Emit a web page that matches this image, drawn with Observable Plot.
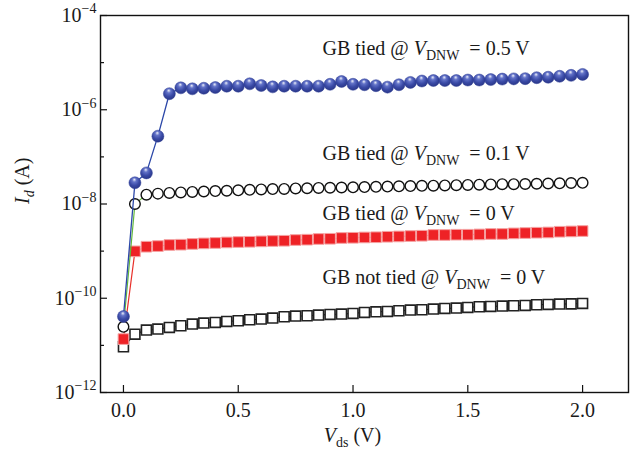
<!DOCTYPE html>
<html><head><meta charset="utf-8">
<script src="https://cdn.jsdelivr.net/npm/d3@7"></script>
<script src="https://cdn.jsdelivr.net/npm/@observablehq/plot@0.6"></script>
<style>body{margin:0;background:#fff}</style>
</head><body><div id="chart"></div>
<script>
const vds = [0,0.05,0.1,0.15,0.2,0.25,0.3,0.35,0.4,0.45,0.5,0.55,0.6,0.65,0.7,0.75,0.8,0.85,0.9,0.95,1.0,
  1.05,1.1,1.15,1.2,1.25,1.3,1.35,1.4,1.45,1.5,1.55,1.6,1.65,1.7,1.75,1.8,1.85,1.9,1.95,2.0];
const idTied05 = [4.1e-11,2.82e-8,4.57e-8,2.75e-7,2.19e-6,2.92e-6,2.78e-6,2.86e-6,2.96e-6,3.16e-6,3.16e-6,3.55e-6,3.27e-6,3.06e-6,3.16e-6,3.16e-6,3.16e-6,3.16e-6,3.47e-6,3.98e-6,3.47e-6,
  3.39e-6,3.24e-6,3.02e-6,3.39e-6,3.8e-6,4.07e-6,4.17e-6,4.17e-6,4.17e-6,4.27e-6,4.27e-6,4.37e-6,4.47e-6,4.52e-6,4.57e-6,4.79e-6,4.9e-6,5.13e-6,5.37e-6,5.62e-6];
const idTied01 = [2.48e-11,1.0e-8,1.58e-8,1.66e-8,1.72e-8,1.76e-8,1.8e-8,1.84e-8,1.88e-8,1.91e-8,1.95e-8,2.0e-8,2.04e-8,2.07e-8,2.09e-8,2.14e-8,2.16e-8,2.19e-8,2.21e-8,2.24e-8,2.26e-8,
  2.29e-8,2.32e-8,2.34e-8,2.37e-8,2.4e-8,2.43e-8,2.45e-8,2.48e-8,2.51e-8,2.54e-8,2.57e-8,2.6e-8,2.63e-8,2.63e-8,2.66e-8,2.69e-8,2.72e-8,2.75e-8,2.79e-8,2.82e-8];
const idTied0 = [1.36e-11,9.9e-10,1.24e-9,1.28e-9,1.35e-9,1.37e-9,1.42e-9,1.46e-9,1.49e-9,1.53e-9,1.56e-9,1.58e-9,1.61e-9,1.64e-9,1.66e-9,1.72e-9,1.75e-9,1.81e-9,1.83e-9,1.9e-9,1.92e-9,
  1.95e-9,1.97e-9,2.02e-9,2.05e-9,2.09e-9,2.12e-9,2.2e-9,2.2e-9,2.23e-9,2.23e-9,2.26e-9,2.31e-9,2.31e-9,2.38e-9,2.42e-9,2.46e-9,2.49e-9,2.58e-9,2.62e-9,2.67e-9];
const idNotTied = [9.3e-12,1.73e-11,2.11e-11,2.22e-11,2.4e-11,2.61e-11,2.83e-11,2.97e-11,3.07e-11,3.22e-11,3.33e-11,3.5e-11,3.61e-11,3.79e-11,4.05e-11,4.19e-11,4.25e-11,4.4e-11,4.54e-11,4.61e-11,4.76e-11,
  5.0e-11,5.16e-11,5.25e-11,5.42e-11,5.61e-11,5.7e-11,5.89e-11,6.08e-11,6.18e-11,6.38e-11,6.61e-11,6.7e-11,6.82e-11,6.93e-11,7.05e-11,7.28e-11,7.4e-11,7.52e-11,7.6e-11,7.76e-11];
const yTicks = [1e-12,1e-10,1e-8,1e-6,1e-4];
const yMinorTicks = [1e-11,1e-9,1e-7,1e-5];
const xTicks = [0,0.5,1.0,1.5,2.0];
const seriesLabels = ["GB tied @ *V*_{DNW}  = 0.5 V","GB tied @ *V*_{DNW}  = 0.1 V","GB tied @ *V*_{DNW}  = 0 V","GB not tied @ *V*_{DNW}  = 0 V"];
const labelX = [0.867,0.867,0.867,0.867];
const labelY = [2.0e-5,1.2e-7,6.4e-9,2.8e-10];
const xTitle = "*V*_{ds} (V)";
const yTitle = "*I*_{*d*} (A)";

const mk = (ys) => vds.map((x, i) => ({x, y: ys[i]}));
const s05 = mk(idTied05), s01 = mk(idTied01), s0 = mk(idTied0), sNT = mk(idNotTied);
const labelData = seriesLabels.map((t, i) => ({x: labelX[i], y: labelY[i], t}));

const W = 640, H = 455, mL = 100, mR = 12, mT = 15, mB = 63;
const plotW = W - mL - mR, plotH = H - mT - mB;
const FS = 20;

const chart = Plot.plot({
  width: W, height: H,
  marginLeft: mL, marginRight: mR, marginTop: mT, marginBottom: mB,
  style: {fontFamily: "'Liberation Serif', 'DejaVu Serif', serif", fontSize: FS + "px", background: "#fff", color: "#1a1a1a", overflow: "visible"},
  x: {domain: [-0.1, 2.2], axis: null},
  y: {type: "log", domain: [1e-12, 1e-4], axis: null},
  marks: [
    Plot.axisX(xTicks, {tickSize: 0, tickPadding: 10, tickFormat: d => d.toFixed(1), fontSize: FS, label: null}),
    Plot.axisY(yTicks, {tickSize: 0, tickPadding: 4, tickFormat: d => "10^{−" + Math.round(-Math.log10(d)) + "}", fontSize: FS, label: null}),
    Plot.tickX(xTicks, {x: d => d, insetTop: plotH - 7, stroke: "#111", strokeWidth: 1.2}),
    Plot.tickY(yTicks, {y: d => d, insetRight: plotW - 7, stroke: "#111", strokeWidth: 1.2}),
    Plot.tickY(yMinorTicks, {y: d => d, insetRight: plotW - 4, stroke: "#111", strokeWidth: 1.2}),
    Plot.frame({stroke: "#111", strokeWidth: 1.4}),
    // not tied: open squares
    Plot.line(sNT, {x: "x", y: "y", stroke: "#222", strokeWidth: 1.2}),
    Plot.dot(sNT, {x: "x", y: "y", symbol: "square", r: 5.6, fill: "#fff", stroke: "#222", strokeWidth: 1.6}),
    // tied 0 V: red squares
    Plot.line(s0, {x: "x", y: "y", stroke: "#e8302a", strokeWidth: 1.2}),
    Plot.dot(s0, {x: "x", y: "y", symbol: "square", r: 6.0, fill: "#ee2226", stroke: "#f5a3a3", strokeWidth: 1}),
    // tied 0.1 V: open circles, green line
    Plot.line(s01, {x: "x", y: "y", stroke: "#62b83c", strokeWidth: 1.2}),
    Plot.dot(s01, {x: "x", y: "y", r: 5.3, fill: "#fff", stroke: "#111", strokeWidth: 1.4}),
    // tied 0.5 V: blue balls
    Plot.line(s05, {x: "x", y: "y", stroke: "#2b47a8", strokeWidth: 1.3}),
    Plot.dot(s05, {x: "x", y: "y", r: 6, fill: "url(#ball)", stroke: "#2e3e96", strokeWidth: 0.5}),
    Plot.text(labelData, {x: "x", y: "y", text: "t", textAnchor: "start", fontSize: FS, fill: "#1a1a1a"}),
    Plot.text([xTitle], {text: d => d, frameAnchor: "bottom", dx: -12, dy: 49, fontSize: FS, fill: "#1a1a1a"}),
    Plot.text([yTitle], {text: d => d, frameAnchor: "left", dx: -78, rotate: -90, fontSize: FS, fill: "#1a1a1a"})
  ]
});

const svg = d3.select(chart);
const defs = svg.insert("defs", ":first-child");
const g = defs.append("radialGradient").attr("id", "ball").attr("cx", "45%").attr("cy", "38%").attr("r", "62%").attr("fx", "45%").attr("fy", "22%");
g.append("stop").attr("offset", "0%").attr("stop-color", "#eef0fa");
g.append("stop").attr("offset", "28%").attr("stop-color", "#6373c8");
g.append("stop").attr("offset", "65%").attr("stop-color", "#3a4aa6");
g.append("stop").attr("offset", "100%").attr("stop-color", "#2a3788");

// render simple markup: *italic*, _{sub}, ^{sup}
function rich(textEl) {
  const s = textEl.textContent;
  if (!/[*_^]/.test(s)) return;
  const parts = s.split(/(_\{[^}]*\}|\^\{[^}]*\})/).filter(p => p.length);
  const t = d3.select(textEl);
  t.text(null);
  let shift = 0;
  const addPlain = (str, extra) => {
    str.split(/(\*[^*]+\*)/).filter(p => p.length).forEach(q => {
      const ts = t.append("tspan");
      if (q.startsWith("*")) { ts.attr("font-style", "italic"); q = q.slice(1, -1); }
      if (extra) extra(ts);
      if (shift !== 0 && !extra) { ts.attr("dy", -shift); shift = 0; }
      ts.text(q);
    });
  };
  parts.forEach(p => {
    if (p.startsWith("_{") || p.startsWith("^{")) {
      const sub = p[0] === "_";
      const d = sub ? 5 : -8.5;
      let first = true;
      addPlain(p.slice(2, -1), ts => {
        ts.attr("font-size", 14);
        if (first) { ts.attr("dy", d - shift); first = false; }
      });
      shift = d;
    } else {
      addPlain(p);
    }
  });
}
svg.selectAll("text").each(function() { rich(this); });

document.getElementById("chart").appendChild(chart);
</script>
</body></html>
